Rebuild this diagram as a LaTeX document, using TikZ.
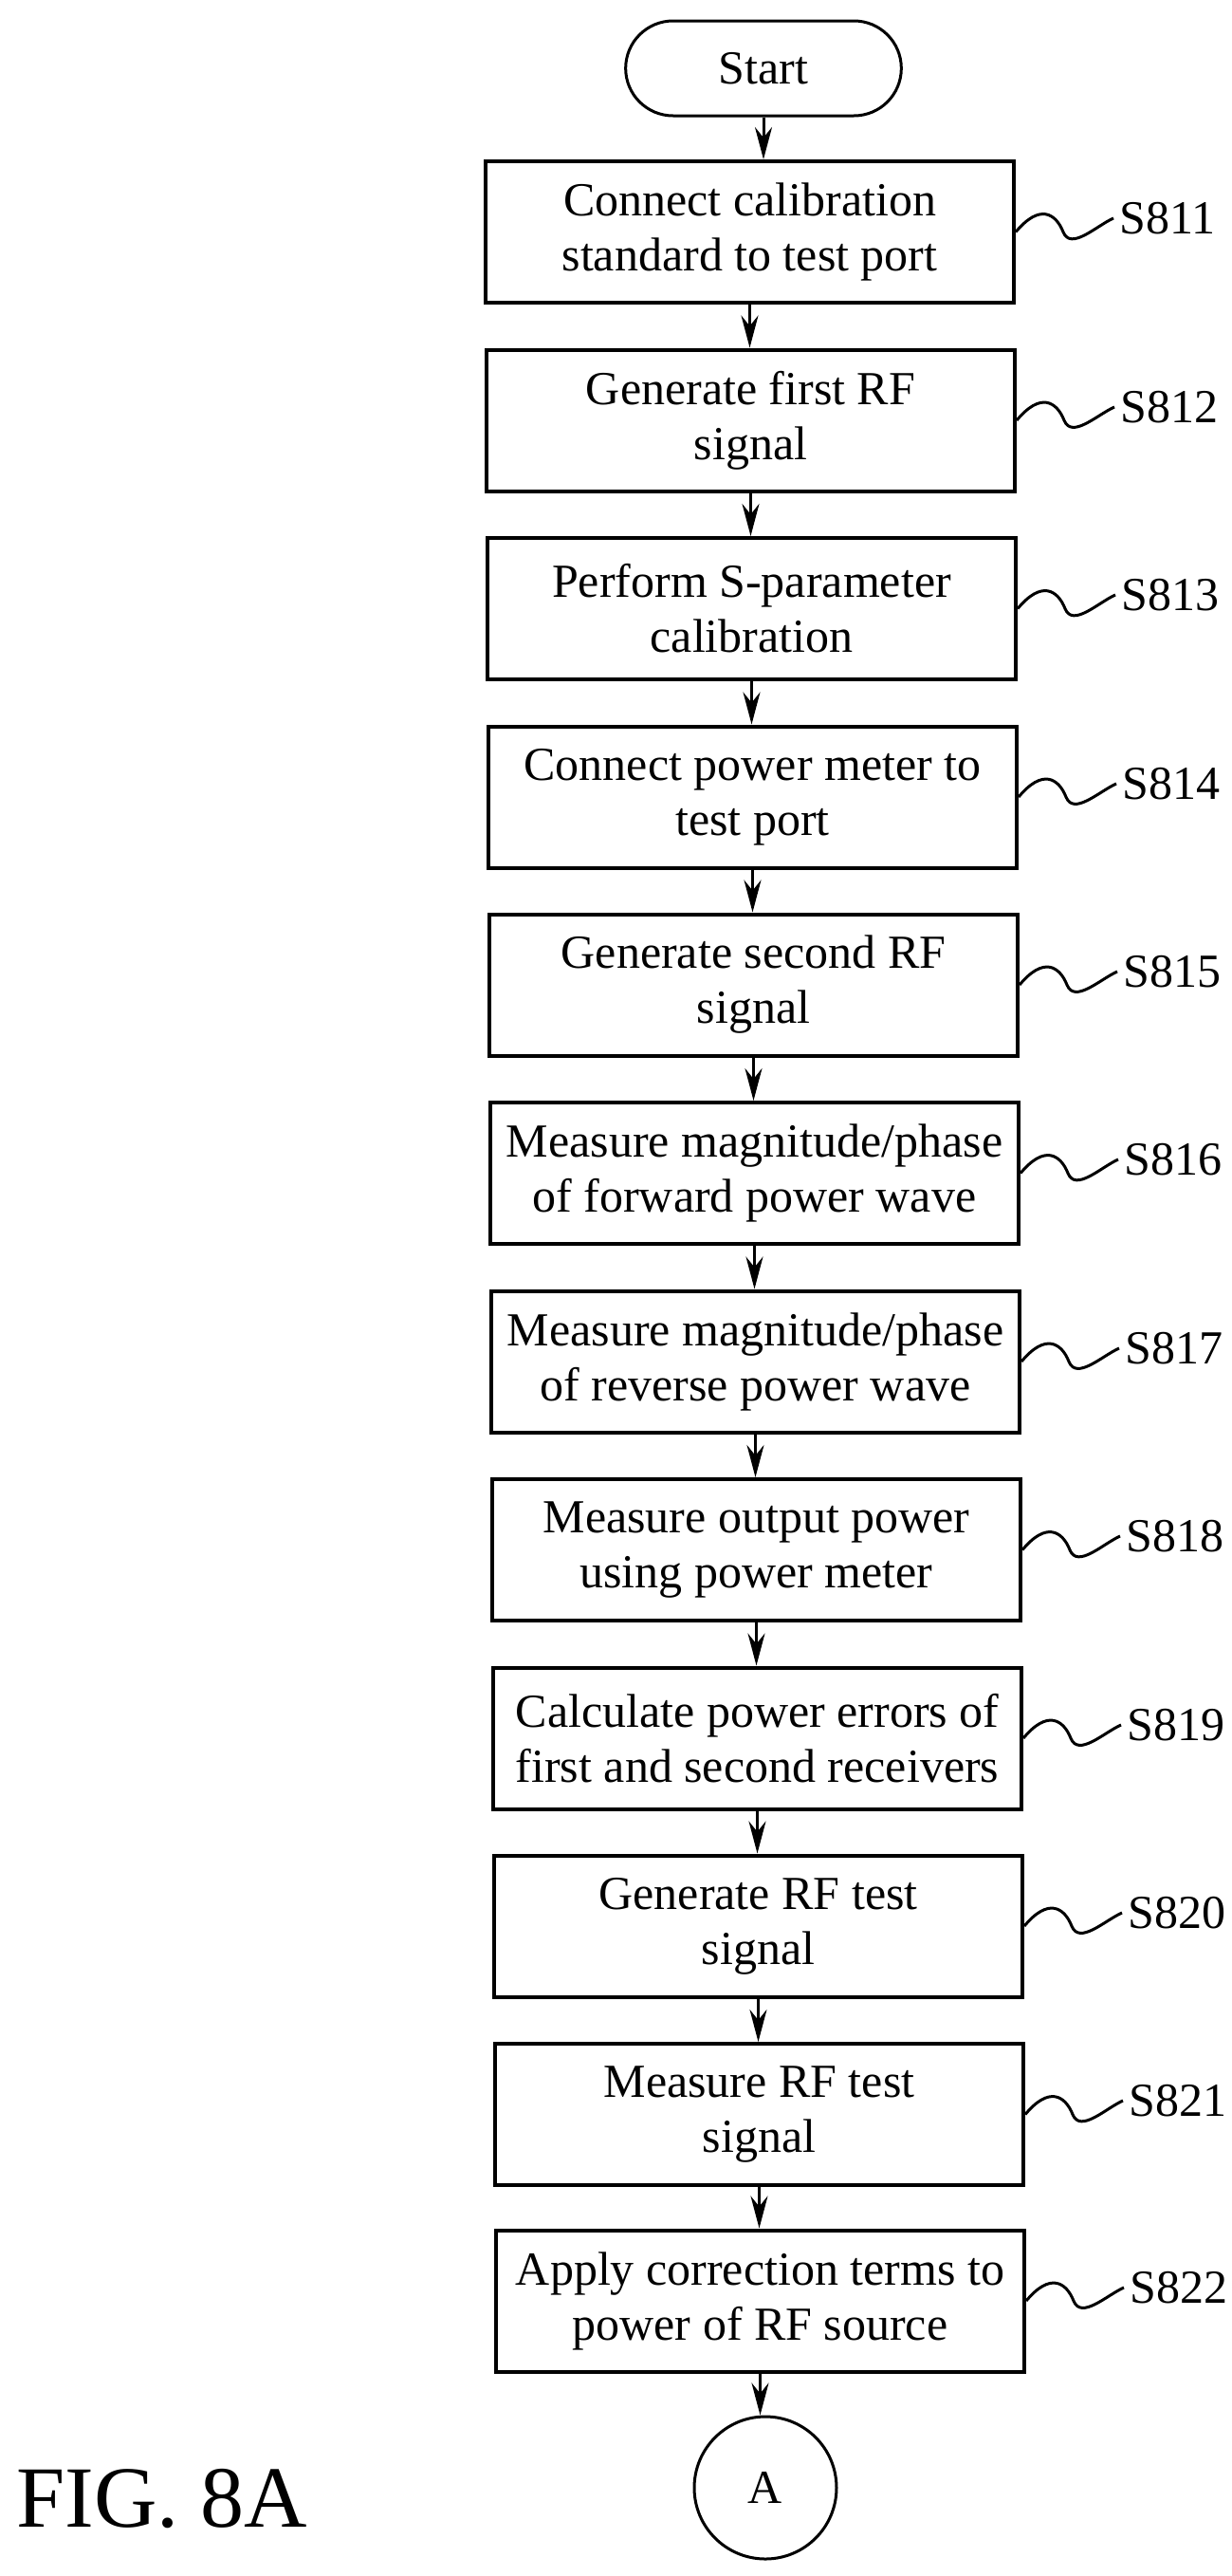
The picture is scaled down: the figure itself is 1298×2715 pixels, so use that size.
\documentclass[tikz,border=0pt]{standalone}
\usepackage{fontspec}
\setmainfont{Liberation Serif}
\usetikzlibrary{shapes.misc,arrows.meta}
\tikzset{>=stealth}

\begin{document}
\begin{tikzpicture}[x=0.5pt,y=-0.5pt,
    stepbox/.style={draw=black, line width=2pt, minimum width=278.5pt, minimum height=74.5pt,
        inner sep=0pt, align=center, font=\fontsize{25}{29}\selectfont},
    tag/.style={anchor=west, inner sep=0pt, font=\fontsize{25}{29}\selectfont},
    flow/.style={->, line width=1.5pt, >={Stealth[length=17pt,width=9pt]}},
    squig/.style={line width=1.5pt}]

                \useasboundingbox (0,0) rectangle (1298,2715);

                % Terminals
                \node[draw, line width=1.5pt, rounded rectangle, minimum width=152pt, minimum height=50pt,
                      font=\fontsize{25}{29}\selectfont] (start) at (805,72) {Start};
                \node[draw, line width=1.5pt, circle, minimum size=75pt, inner sep=0pt,
                      font=\fontsize{25}{29}\selectfont] (conA) at (807,2622) {A};

                % Steps
                \node[stepbox] (s811) at (790.5,244.5) {Connect calibration\\standard to test port};
                \node[stepbox] (s812) at (791.5,443) {Generate first RF\\signal};
                \node[stepbox] (s813) at (792.5,641.5) {Perform S-parameter\\calibration};
                \node[stepbox] (s814) at (793.5,840) {Connect power meter to\\test port};
                \node[stepbox] (s815) at (794.5,1038) {Generate second RF\\signal};
                \node[stepbox] (s816) at (795.5,1236.5) {Measure magnitude/phase\\of forward power wave};
                \node[stepbox] (s817) at (796.5,1435) {Measure magnitude/phase\\of reverse power wave};
                \node[stepbox] (s818) at (797.5,1633.5) {Measure output power\\using power meter};
                \node[stepbox] (s819) at (798.5,1832) {Calculate power errors of\\first and second receivers};
                \node[stepbox] (s820) at (799.5,2030) {Generate RF test\\signal};
                \node[stepbox] (s821) at (800.5,2228.5) {Measure RF test\\signal};
                \node[stepbox] (s822) at (801.5,2425) {Apply correction terms to\\power of RF source};

                % Step labels
                \node[tag] (t811) at (1180,230) {S811};
                \node[tag] (t812) at (1181,429) {S812};
                \node[tag] (t813) at (1182,627) {S813};
                \node[tag] (t814) at (1183,826) {S814};
                \node[tag] (t815) at (1184,1024) {S815};
                \node[tag] (t816) at (1185,1222) {S816};
                \node[tag] (t817) at (1186,1421) {S817};
                \node[tag] (t818) at (1187,1619) {S818};
                \node[tag] (t819) at (1188,1818) {S819};
                \node[tag] (t820) at (1189,2016) {S820};
                \node[tag] (t821) at (1190,2214) {S821};
                \node[tag] (t822) at (1191,2411) {S822};

                % Squiggles to labels
                \foreach \n in {811,...,822}
                    \draw[squig] (s\n.east) .. controls +(25,-30) and +(-8,-20) .. ++(50,0)
                        .. controls +(8,20) and +(-18,8) .. ([xshift=-3pt]t\n.west);

                % Arrows
                \draw[flow] (start.south) -- (start.south |- s811.north);
                \foreach \a/\b in {811/812,812/813,813/814,814/815,815/816,816/817,
                                   817/818,818/819,819/820,820/821,821/822}
                    \draw[flow] (s\a.south) -- (s\a.south |- s\b.north);
                \draw[flow] (s822.south) -- (s822.south |- conA.north);

                % Figure caption
                \node[anchor=west, inner sep=0pt, font=\fontsize{46}{50}\selectfont] (fig) at (17,2634) {FIG. 8A};

            \end{tikzpicture}
\end{document}
